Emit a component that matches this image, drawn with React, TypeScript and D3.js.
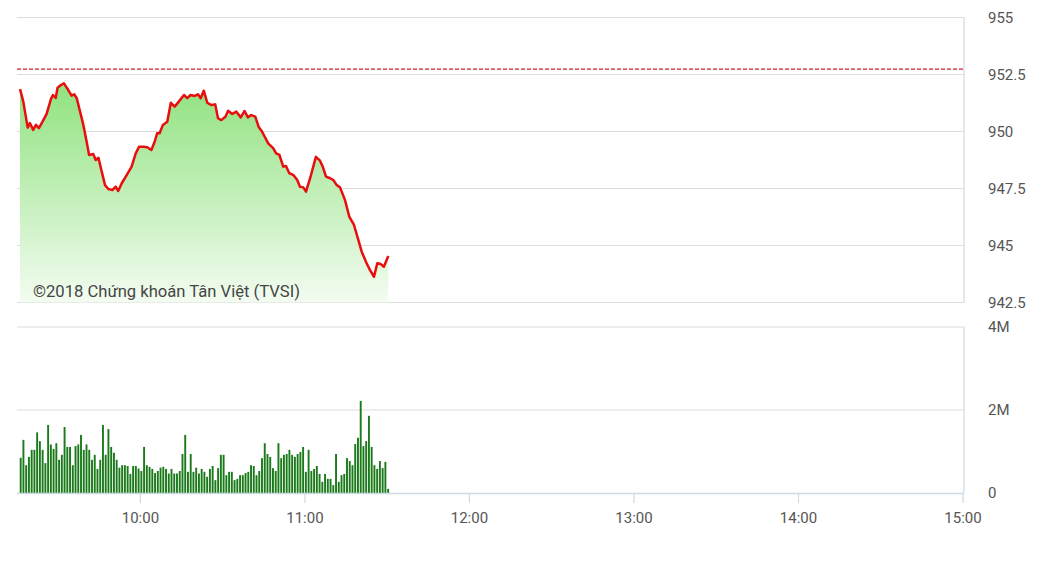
import React from "react";
import * as d3 from "d3";

// ---- data ----
// price line: minutes after 09:00 and index value
const priceMinutes = [
  16.1, 17.3, 18.9, 19.7, 20.9, 21.9, 23.0, 24.6, 25.8, 27.4, 28.1, 29.1, 29.8, 31.0, 32.1, 33.7,
  34.9, 35.9, 36.8, 38.0, 39.2, 40.4, 41.3, 42.8, 43.7, 44.7, 45.9, 47.1, 48.3, 49.8, 51.0, 51.9,
  53.2, 55.0, 56.8, 58.3, 59.5, 61.0, 62.5, 64.0, 65.2, 66.1, 67.0, 68.2, 69.8, 71.1, 72.5, 74.0,
  75.9, 77.1, 78.3, 79.8, 81.0, 82.0, 83.1, 84.4, 85.9, 87.3, 88.3, 89.5, 91.0, 92.0, 93.5, 95.0,
  96.6, 98.0, 99.2, 100.4, 101.9, 103.1, 104.4, 106.6, 108.5, 109.5, 110.7, 112.1, 113.1, 114.3,
  115.8, 117.2, 118.2, 119.4, 120.4, 121.9, 124.0, 125.5, 126.5, 127.7, 129.2, 130.4, 131.6, 132.8,
  134.6, 136.2, 137.9, 139.5, 140.7, 142.5, 143.7, 145.2, 146.4, 147.6, 148.8, 150.4,
];
const priceValues = [
  951.86, 951.31, 950.17, 950.37, 950.07, 950.29, 950.15, 950.5, 950.77, 951.43, 951.6, 951.47,
  951.92, 952.04, 952.11, 951.82, 951.57, 951.63, 951.46, 950.87, 950.29, 949.55, 948.97, 949.01,
  948.75, 948.85, 948.24, 947.65, 947.48, 947.43, 947.58, 947.39, 947.73, 948.09, 948.46, 949.04,
  949.33, 949.33, 949.31, 949.19, 949.55, 949.92, 949.92, 950.29, 950.43, 951.26, 951.09, 951.31,
  951.6, 951.46, 951.6, 951.56, 951.63, 951.46, 951.79, 951.26, 951.16, 951.19, 950.58, 950.5,
  950.65, 950.91, 950.77, 950.87, 950.62, 950.9, 950.62, 950.72, 950.65, 950.21, 949.99, 949.48,
  949.26, 949.04, 948.97, 948.46, 948.49, 948.17, 948.09, 947.87, 947.58, 947.55, 947.36, 947.95,
  948.89, 948.72, 948.46, 948.02, 947.95, 947.87, 947.65, 947.55, 947.0, 946.26, 945.9, 945.24,
  944.73, 944.22, 943.93, 943.63, 944.22, 944.19, 944.07, 944.54,
];
const referencePrice = 952.74;

// volume per minute starting 09:16, in millions
const volumeStartMinute = 16;
const volumes = [
  0.85, 1.28, 0.67, 0.87, 1.04, 1.04, 1.46, 1.25, 1.04, 0.72, 1.64, 1.17, 1.06, 1.2, 0.8, 0.92,
  1.59, 1.11, 1.11, 0.67, 1.13, 1.17, 1.4, 1.04, 1.17, 1.04, 0.8, 0.92, 0.58, 0.8, 1.64, 0.92,
  1.54, 1.11, 0.97, 0.8, 0.61, 0.67, 0.67, 0.65, 0.46, 0.65, 0.65, 0.59, 0.53, 1.11, 0.67, 0.63,
  0.58, 0.48, 0.53, 0.61, 0.63, 0.58, 0.47, 0.58, 0.47, 0.47, 0.53, 0.94, 1.4, 0.51, 0.94, 0.51,
  0.61, 0.47, 0.58, 0.51, 0.39,
  0.58, 0.65, 0.31, 0.6, 0.92, 0.92, 0.43, 0.51, 0.51, 0.31, 0.34, 0.43, 0.43, 0.48, 0.51, 0.67,
  0.65, 0.43, 0.53, 0.84, 1.2, 0.94, 0.87, 0.6, 0.53, 1.2, 0.84, 0.92, 0.94, 1.04, 0.92, 0.87,
  0.94, 0.99, 1.11, 0.51, 1.04, 0.53, 0.58, 0.65, 0.46, 0.27, 0.46, 0.34, 0.34, 0.19, 0.94, 0.27,
  0.43, 0.46, 0.84, 0.77, 0.67, 1.18, 1.33, 2.22, 1.13, 1.25, 1.86, 1.11, 0.67, 0.58, 0.77, 0.6,
  0.75, 0.1,
];

const timeTickMinutes = [60, 120, 180, 240, 300, 360];
const timeTickLabels = ["10:00", "11:00", "12:00", "13:00", "14:00", "15:00"];
const priceTicks = [955, 952.5, 950, 947.5, 945, 942.5];
const priceTickLabels = ["955", "952.5", "950", "947.5", "945", "942.5"];
const volumeTicks = [0, 2, 4];
const volumeTickLabels = ["0", "2M", "4M"];
const watermark = "©2018 Chứng khoán Tân Việt (TVSI)";

// ---- layout ----
const W = 1037;
const H = 583;
const left = 17;
const right = 963;
const priceTop = 17.5;
const priceBottom = 302.5;
const volTop = 327;
const volBottom = 493;

export default function App() {
  const x = d3.scaleLinear().domain([15, 360]).range([left, right]);
  const yP = d3.scaleLinear().domain([942.5, 955]).range([priceBottom, priceTop]);
  const yV = d3.scaleLinear().domain([0, 4]).range([volBottom, volTop]);

  const pts = priceMinutes.map((m, i) => [m, priceValues[i]] as [number, number]);
  const line = d3
    .line<[number, number]>()
    .x((d) => x(d[0]))
    .y((d) => yP(d[1]));
  const area = d3
    .area<[number, number]>()
    .x((d) => x(d[0]))
    .y0(priceBottom)
    .y1((d) => yP(d[1]));

  const font = "Roboto, 'Noto Sans', sans-serif";
  const labelColor = "#555";
  const gridColor = "#dcdcdc";
  const borderColor = "#cfdae2";

  return (
    <svg
      width={W}
      height={H}
      style={{ position: "absolute", left: 0, top: 0, background: "#fff" }}
    >
      <defs>
        <linearGradient id="areaGrad" x1="0" y1="0" x2="0" y2="1">
          <stop offset="0%" stopColor="#90e27f" />
          <stop offset="100%" stopColor="#f3fcf1" />
        </linearGradient>
      </defs>

      {/* price grid */}
      {priceTicks.map((t) => (
        <line key={"pg" + t} x1={left} x2={right + 1} y1={yP(t)} y2={yP(t)} stroke={gridColor} strokeWidth={1} />
      ))}
      <line x1={right + 1} x2={right + 1} y1={priceTop} y2={priceBottom} stroke={borderColor} strokeWidth={1.2} />

      {/* area + line */}
      <path d={area(pts) || ""} fill="url(#areaGrad)" />
      <line
        x1={left}
        x2={right + 1}
        y1={yP(referencePrice)}
        y2={yP(referencePrice)}
        stroke="#d42020"
        strokeWidth={1.2}
        strokeDasharray="4,2"
      />
      <path d={line(pts) || ""} fill="none" stroke="#e80e0e" strokeWidth={2.5} strokeLinejoin="round" />

      <text x={33} y={297} fontFamily={font} fontSize={17} fill="#454545" textLength={267} lengthAdjust="spacingAndGlyphs">
        {watermark}
      </text>

      {priceTicks.map((t, i) => (
        <text key={"pl" + t} x={988} y={yP(t)} dy="0.35em" fontFamily={font} fontSize={15} fill={labelColor}>
          {priceTickLabels[i]}
        </text>
      ))}

      {/* volume panel */}
      {volumeTicks
        .filter((t) => t > 0)
        .map((t) => (
          <line key={"vg" + t} x1={left} x2={right + 1} y1={yV(t)} y2={yV(t)} stroke={gridColor} strokeWidth={1} />
        ))}
      <line x1={right + 1} x2={right + 1} y1={volTop} y2={volBottom} stroke={borderColor} strokeWidth={1.2} />

      {volumes.map((v, i) => {
        const m = volumeStartMinute + i;
        return (
          <rect
            key={"b" + i}
            x={x(m)}
            y={yV(v)}
            width={1.9}
            height={volBottom - yV(v)}
            fill="#1a7a1a"
          />
        );
      })}

      <line x1={left} x2={right + 1} y1={volBottom + 0.5} y2={volBottom + 0.5} stroke={borderColor} strokeWidth={1.5} />
      {timeTickMinutes.map((m, i) => (
        <g key={"tt" + m}>
          <line x1={x(m)} x2={x(m)} y1={volBottom} y2={volBottom + 10} stroke={borderColor} strokeWidth={1.2} />
          <text x={x(m)} y={523} textAnchor="middle" fontFamily={font} fontSize={15} fill={labelColor}>
            {timeTickLabels[i]}
          </text>
        </g>
      ))}

      {volumeTicks.map((t, i) => (
        <text key={"vl" + t} x={988} y={yV(t)} dy="0.35em" fontFamily={font} fontSize={15} fill={labelColor}>
          {volumeTickLabels[i]}
        </text>
      ))}
    </svg>
  );
}
